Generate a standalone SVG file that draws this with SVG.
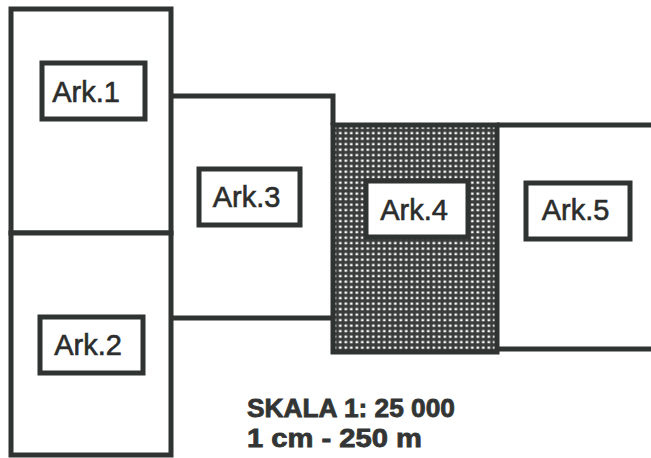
<svg xmlns="http://www.w3.org/2000/svg" width="651" height="458" viewBox="0 0 651 458">
<defs>
<pattern id="dots" x="332" y="125" width="5.5" height="5.5" patternUnits="userSpaceOnUse">
<rect width="5.5" height="5.5" fill="#3a3c3b"/>
<rect x="1.5" y="1.5" width="2.6" height="2.3" fill="#ffffff"/>
</pattern>
</defs>
<style>
.sheet{fill:#ffffff;stroke:#2f3331;stroke-width:5}
.ln{fill:none;stroke:#2f3331;stroke-width:5}
.lab{fill:#ffffff;stroke:#2f3331;stroke-width:5}
.t{font-family:"Liberation Sans",Arial,sans-serif;font-size:29px;fill:#2b2d2c;stroke:#2b2d2c;stroke-width:0.6;text-anchor:middle}
.s{font-family:"Liberation Sans",Arial,sans-serif;font-size:26px;font-weight:bold;fill:#333534;stroke:#333534;stroke-width:0.8}
</style>
<rect width="651" height="458" fill="#ffffff"/>
<g id="connectors">
<polyline class="ln" points="171,96 333,96 333,125"/>
<line class="ln" x1="171" y1="318" x2="333" y2="318"/>
<line class="ln" x1="497" y1="125" x2="651" y2="125"/>
<line class="ln" x1="497" y1="349" x2="651" y2="349"/>
</g>
<g id="ark1">
<rect class="sheet" x="11" y="9" width="160" height="224"/>
<rect class="lab" x="42" y="63" width="103" height="56"/>
<text class="t" x="86" y="102">Ark.1</text>
</g>
<g id="ark2">
<rect class="sheet" x="11" y="233" width="160" height="222"/>
<rect class="lab" x="40" y="317" width="103" height="56"/>
<text class="t" x="88" y="355">Ark.2</text>
</g>
<g id="ark3">
<rect class="lab" x="199" y="169" width="101" height="56"/>
<text class="t" x="246.5" y="207">Ark.3</text>
</g>
<g id="ark4">
<rect x="333" y="125" width="164" height="227" fill="url(#dots)" stroke="#2f3331" stroke-width="5"/>
<rect class="lab" x="366" y="181" width="102" height="56"/>
<text class="t" x="414" y="220">Ark.4</text>
</g>
<g id="ark5">
<rect class="lab" x="526" y="183" width="104" height="56"/>
<text class="t" x="575.5" y="220">Ark.5</text>
</g>
<g id="scale">
<text class="s" x="247" y="417" textLength="208" lengthAdjust="spacingAndGlyphs">SKALA 1: 25 000</text>
<text class="s" x="247" y="447" textLength="175" lengthAdjust="spacingAndGlyphs">1 cm - 250 m</text>
</g>
</svg>
